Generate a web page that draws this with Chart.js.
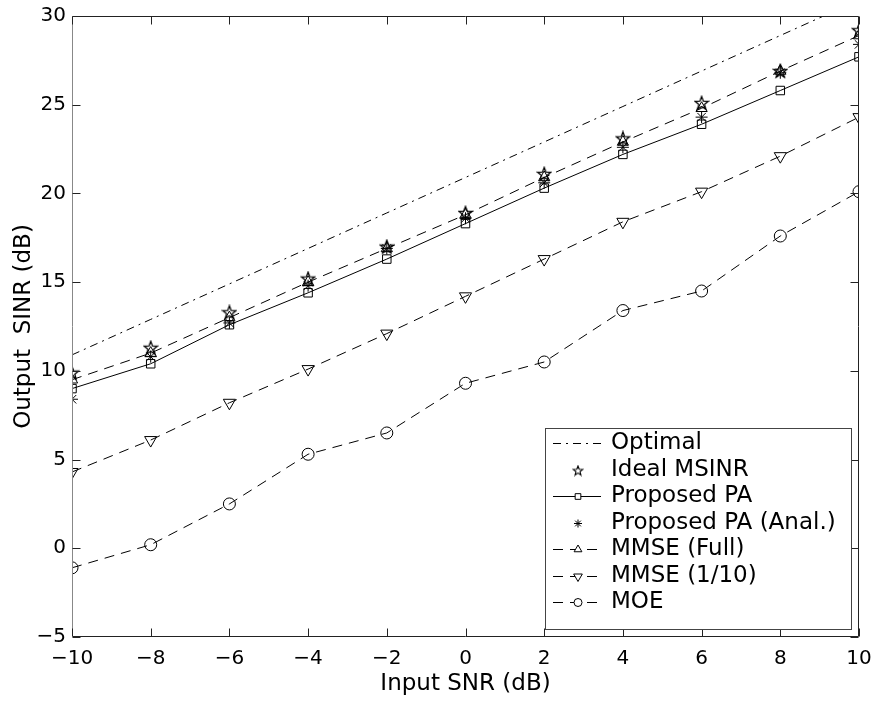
<!DOCTYPE html>
<html><head><meta charset="utf-8">
<script src="https://cdn.jsdelivr.net/npm/chart.js@4.4.0/dist/chart.umd.min.js"></script>
<style>html,body{margin:0;padding:0;background:#fff;}</style>
</head><body>
<canvas id="c" width="877" height="702"></canvas>
<script>
const inputSNR = [-10,-8,-6,-4,-2,0,2,4,6,8,10];
const optimal = [10.9,12.9,14.9,16.9,18.9,20.9,22.9,24.9,26.9,28.9,30.9];
const idealMSINR = [9.9,11.3,13.3,15.2,17.0,18.9,21.1,23.1,25.1,26.9,29.2];
const proposedPA = [9.0,10.4,12.6,14.4,16.3,18.3,20.3,22.2,23.9,25.8,27.7];
const proposedAnal = [8.4,10.8,12.7,14.8,16.9,18.6,20.6,22.6,24.3,26.8,28.4];
const mmseFull = [9.5,11.0,13.0,15.0,16.9,18.8,20.9,22.9,24.8,26.9,28.9];
const mmseTenth = [4.3,6.1,8.2,10.1,12.1,14.2,16.3,18.4,20.1,22.1,24.3];
const moe = [-1.1,0.2,2.5,5.3,6.5,9.3,10.5,13.4,14.5,17.6,20.1];
const xTicks = [-10,-8,-6,-4,-2,0,2,4,6,8,10];
const yTicks = [-5,0,5,10,15,20,25,30];

function starCanvas(size, lw){
  const c = document.createElement('canvas');
  c.width = size; c.height = size;
  const g = c.getContext('2d');
  const cx = size/2, cy = size/2 + 0.5, R = size/2 - 1, r = R*0.42;
  g.strokeStyle = '#000'; g.lineWidth = lw;
  g.beginPath();
  for (let i=0;i<10;i++){
    const a = -Math.PI/2 + i*Math.PI/5;
    const rr = (i%2===0)?R:r;
    const px = cx + rr*Math.cos(a), py = cy + rr*Math.sin(a);
    if(i===0) g.moveTo(px,py); else g.lineTo(px,py);
  }
  g.closePath(); g.stroke();
  return c;
}
const starBig = starCanvas(16, 1.3);
const starSmall = starCanvas(12, 1.1);

const pts = a => a.map((v,i)=>({x:inputSNR[i], y:v}));
const base = {borderColor:'#000', backgroundColor:'rgba(0,0,0,0)', borderWidth:1, pointBorderWidth:1, pointBorderColor:'#000', pointBackgroundColor:'rgba(0,0,0,0)'};

const datasets = [
  Object.assign({}, base, {label:'Optimal', data:pts(optimal), borderDash:[8,5,2,5], pointRadius:0}),
  Object.assign({}, base, {label:'Ideal MSINR', data:pts(idealMSINR), showLine:false, pointStyle:starBig, legendPointStyle:starSmall, pointRadius:8}),
  Object.assign({}, base, {label:'Proposed PA', data:pts(proposedPA), pointStyle:'rect', pointRadius:6}),
  Object.assign({}, base, {label:'Proposed PA (Anal.)', data:pts(proposedAnal), showLine:false, pointStyle:'star', pointRadius:6}),
  Object.assign({}, base, {label:'MMSE (Full)', data:pts(mmseFull), borderDash:[10,7], pointStyle:'triangle', pointRadius:6.5}),
  Object.assign({}, base, {label:'MMSE (1/10)', data:pts(mmseTenth), borderDash:[10,7], pointStyle:'triangle', pointRotation:180, pointRadius:7}),
  Object.assign({}, base, {label:'MOE', data:pts(moe), borderDash:[10,7], pointStyle:'circle', pointRadius:6})
];

const FONT = "'DejaVu Sans', 'Liberation Sans', Arial, sans-serif";

const boxTicks = {
  id:'boxTicks',
  afterDatasetsDraw(chart){
    const {ctx, chartArea:a, scales:{x, y}} = chart;
    ctx.save();
    ctx.lineWidth = 1;
    ctx.strokeStyle = '#222';
    const L = Math.round(a.left)+0.5, R = Math.round(a.right)-0.5, T = Math.round(a.top)+0.5, B = Math.round(a.bottom)-0.5;
    ctx.beginPath();
    ctx.moveTo(L,T); ctx.lineTo(R,T); ctx.lineTo(R,B); ctx.lineTo(L,B);
    ctx.stroke();
    ctx.strokeStyle = '#888';
    ctx.beginPath(); ctx.moveTo(L,T); ctx.lineTo(L,B); ctx.stroke();
    ctx.strokeStyle = '#222';
    const tl = 8;
    ctx.beginPath();
    xTicks.forEach(v=>{
      const px = Math.round(x.getPixelForValue(v))+0.5;
      ctx.moveTo(px,B); ctx.lineTo(px,B-tl);
      ctx.moveTo(px,T); ctx.lineTo(px,T+tl);
    });
    yTicks.forEach(v=>{
      const py = Math.round(y.getPixelForValue(v))+0.5;
      ctx.moveTo(L,py); ctx.lineTo(L+tl,py);
      ctx.moveTo(R,py); ctx.lineTo(R-tl,py);
    });
    ctx.stroke();
    ctx.restore();
  }
};

const boxLegend = {
  id:'boxLegend',
  afterDraw(chart){
    const ctx = chart.ctx;
    const x0 = 545.5, y0 = 428.5, w = 306, h = 201;
    ctx.save();
    ctx.fillStyle = '#fff';
    ctx.fillRect(x0,y0,w,h);
    ctx.strokeStyle = '#444'; ctx.lineWidth = 1;
    ctx.strokeRect(x0,y0,w,h);
    const rowY0 = 443, dy = 26.5;
    chart.data.datasets.forEach((ds,i)=>{
      const yy = Math.round(rowY0 + i*dy)+0.5;
      ctx.strokeStyle = '#000'; ctx.lineWidth = 1;
      if (ds.showLine !== false) {
        ctx.setLineDash(ds.borderDash || []);
        ctx.beginPath(); ctx.moveTo(553, yy); ctx.lineTo(601, yy); ctx.stroke();
        ctx.setLineDash([]);
      }
      if (ds.pointRadius > 0) {
        ctx.fillStyle = '#fff';
        ctx.strokeStyle = '#000';
        Chart.helpers.drawPoint(ctx, {pointStyle: ds.legendPointStyle || ds.pointStyle, rotation: ds.pointRotation||0, radius: Math.max(3.5, ds.pointRadius-2), borderWidth:1}, 578, yy);
      }
      ctx.fillStyle = '#000';
      ctx.font = "23px " + FONT;
      ctx.textBaseline = 'middle';
      ctx.textAlign = 'left';
      ctx.fillText(ds.label, 611, yy);
    });
    ctx.restore();
  }
};

const minus = v => String(v).replace('-', '\u2212');

new Chart(document.getElementById('c'), {
  type:'line',
  data:{datasets},
  plugins:[boxTicks, boxLegend],
  options:{
    responsive:false, animation:false, devicePixelRatio:1,
    layout:{padding:{top:16, right:18, left:0, bottom:0}},
    plugins:{legend:{display:false}, tooltip:{enabled:false}},
    elements:{line:{tension:0}},
    scales:{
      x:{type:'linear', min:-10, max:10,
        grid:{display:false, drawTicks:false}, border:{display:false},
        afterBuildTicks: s => { s.ticks = xTicks.map(v=>({value:v})); },
        afterFit: s => { s.height = 65; s.paddingLeft = 0; s.paddingRight = 0; },
        ticks:{color:'#000', font:{family:FONT, size:20}, padding:10, maxRotation:0, autoSkip:false, callback: minus},
        title:{display:true, text:'Input SNR (dB)', color:'#000', font:{family:FONT, size:23}, padding:{top:0,bottom:4}}
      },
      y:{type:'linear', min:-5, max:30,
        grid:{display:false, drawTicks:false}, border:{display:false},
        afterBuildTicks: s => { s.ticks = yTicks.map(v=>({value:v})); },
        afterFit: s => { s.width = 72; s.paddingTop = 0; s.paddingBottom = 0; },
        ticks:{color:'#000', font:{family:FONT, size:20}, padding:6, autoSkip:false, callback: minus},
        title:{display:true, text:'Output  SINR (dB)', color:'#000', font:{family:FONT, size:23}, padding:{top:10,bottom:0}}
      }
    }
  }
});
</script>
</body></html>
